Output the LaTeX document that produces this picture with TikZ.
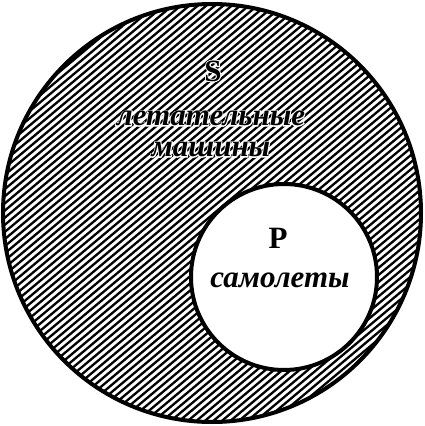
\documentclass[tikz,border=0pt]{standalone}
\usepackage{fontspec}
\setmainfont{Liberation Serif}
\newfontfamily\halofont[FakeBold=6]{Liberation Serif}
\begin{document}
\begin{tikzpicture}[x=1pt,y=-1pt,
  hatch/.style={line width=2.3pt,black},
  rim/.style={line width=4pt,black},
  lbl/.style={font=\fontsize{31}{31}\selectfont\bfseries\itshape,align=center,inner sep=0pt},
  letter/.style={font=\fontsize{31}{32}\selectfont\bfseries,inner sep=0pt},
  halo/.style={text=white,font=\fontsize{31}{31}\selectfont\halofont\bfseries\itshape},
  halol/.style={text=white,font=\fontsize{31}{32}\selectfont\halofont\bfseries}]
\useasboundingbox (0,0) rectangle (424,426);
\begin{scope}
  \clip (212,213) circle (210);
  \foreach \i in {-520,-511.5,...,440}
    \draw[hatch] (\i,430) -- ({\i+512},0);
  \node[letter,halol] (hS) at (213,71) {S};
  \node[lbl,halo] (hT) at (211,134) {летательные\\машины};
\end{scope}
\draw[rim] (212,213) circle (209);
\fill[white] (284,277) circle (93);
\draw[rim] (284,277) circle (93);
\node[letter] (S) at (213,71) {S};
\node[lbl] (Stext) at (211,134) {летательные\\машины};
\node[letter] (P) at (278,238) {P};
\node[lbl] (Ptext) at (280,280) {самолеты};
\end{tikzpicture}
\end{document}
